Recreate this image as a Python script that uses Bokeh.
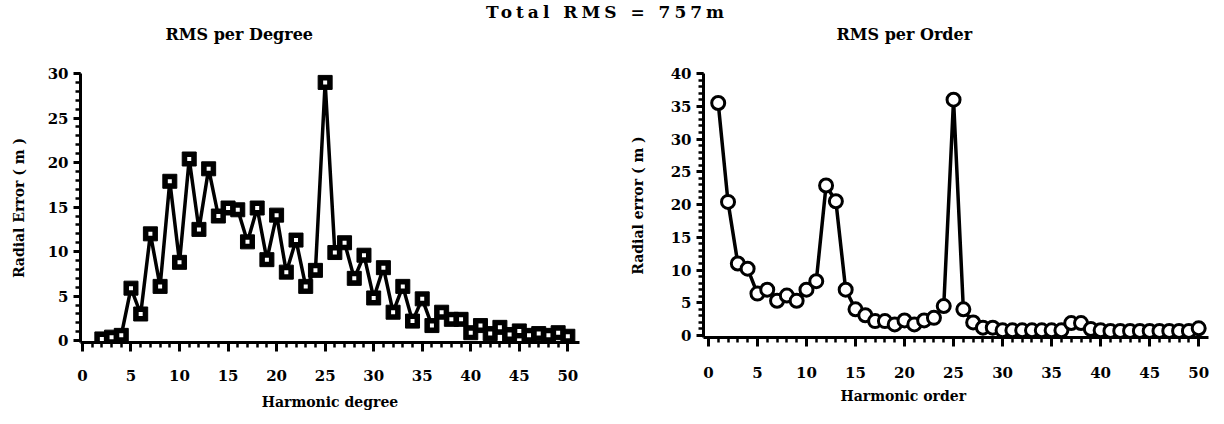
from bokeh.plotting import figure
from bokeh.models import Div, FixedTicker, Range1d, Title
from bokeh.layouts import column, row
from bokeh.embed import file_html
from bokeh.resources import INLINE

# ---------------- data ----------------
degree = list(range(2, 51))
rms_degree = [0.2, 0.4, 0.6, 5.9, 3.0, 12.0, 6.1, 17.9, 8.8, 20.4,
              12.5, 19.3, 14.0, 14.9, 14.7, 11.1, 14.9, 9.1, 14.1, 7.7,
              11.3, 6.1, 7.9, 29.0, 9.9, 11.0, 7.0, 9.6, 4.8, 8.2,
              3.2, 6.1, 2.2, 4.7, 1.7, 3.2, 2.4, 2.4, 0.9, 1.7,
              0.8, 1.5, 0.7, 1.1, 0.6, 0.8, 0.6, 0.9, 0.5]

order = list(range(1, 51))
rms_order = [35.5, 20.4, 11.0, 10.2, 6.4, 7.0, 5.3, 6.1, 5.3, 7.0,
             8.3, 22.9, 20.5, 7.0, 4.0, 3.1, 2.2, 2.2, 1.7, 2.3,
             1.7, 2.3, 2.7, 4.5, 36.0, 4.0, 2.0, 1.2, 1.2, 0.8,
             0.8, 0.8, 0.8, 0.8, 0.8, 0.8, 1.9, 1.9, 1.0, 0.8,
             0.7, 0.7, 0.7, 0.7, 0.7, 0.7, 0.7, 0.7, 0.7, 1.1]

x_ticks = [0, 5, 10, 15, 20, 25, 30, 35, 40, 45, 50]
x_minor = list(range(0, 51))
y_ticks_deg = [0, 5, 10, 15, 20, 25, 30]
y_minor_deg = list(range(0, 31))
y_ticks_ord = [0, 5, 10, 15, 20, 25, 30, 35, 40]
y_minor_ord = list(range(0, 41))

main_title = "Total RMS = 757m"
title_deg = "RMS per Degree"
title_ord = "RMS per Order"
xlab_deg = "Harmonic degree"
xlab_ord = "Harmonic order"
ylab_deg = "Radial Error ( m )"
ylab_ord = "Radial error ( m )"

FONT = "DejaVu Serif"


def style_axes(p, xt, xm, yt, ym, label_standoff):
    for ax in (p.xaxis[0], p.yaxis[0]):
        ax.axis_line_width = 3
        ax.axis_line_color = "black"
        ax.major_tick_line_width = 3
        ax.minor_tick_line_width = 2.5
        ax.major_tick_line_color = "black"
        ax.minor_tick_line_color = "black"
        ax.major_tick_in = 0
        ax.minor_tick_in = 0
        ax.major_label_text_font = FONT
        ax.major_label_text_font_style = "bold"
        ax.major_label_text_font_size = "15px"
        ax.major_label_text_color = "black"
        ax.axis_label_text_font = FONT
        ax.axis_label_text_font_style = "bold"
        ax.axis_label_text_font_size = "14px"
        ax.axis_label_text_color = "black"
    p.xaxis[0].ticker = FixedTicker(ticks=xt, minor_ticks=xm)
    p.yaxis[0].ticker = FixedTicker(ticks=yt, minor_ticks=ym)
    p.xaxis[0].major_tick_out = 9
    p.xaxis[0].minor_tick_out = 5
    p.yaxis[0].major_tick_out = 7
    p.yaxis[0].minor_tick_out = 5
    p.xaxis[0].major_label_standoff = label_standoff
    p.yaxis[0].major_label_standoff = 5
    p.xgrid.visible = False
    p.ygrid.visible = False
    p.outline_line_color = None


def make_title(text, offset, size="16px", standoff=0):
    return Title(text=text, align="left", offset=offset, text_font=FONT,
                 text_font_style="bold", text_font_size=size,
                 text_color="black", standoff=standoff,
                 vertical_align="bottom")


def spacer():
    # blank band between the panel title and the plot frame
    return Title(text=" ", text_font=FONT, text_font_size="15px", standoff=10)


# ---------------- left panel ----------------
p1 = figure(width=612, height=402, output_backend="svg", toolbar_location=None,
            x_range=Range1d(-0.2, 51.2), y_range=Range1d(-0.2, 30),
            min_border_left=80, min_border_right=33, min_border_top=51,
            min_border_bottom=82)
style_axes(p1, x_ticks, x_minor, y_ticks_deg, y_minor_deg, 18)
p1.xaxis[0].axis_label = xlab_deg
p1.xaxis[0].axis_label_standoff = 10
p1.yaxis[0].axis_label = ylab_deg
p1.yaxis[0].axis_label_standoff = 18
p1.line(degree, rms_degree, line_color="black", line_width=3.5)
p1.scatter(degree, rms_degree, marker="square", size=14, fill_color="black",
           line_color="black")
p1.scatter(degree, rms_degree, marker="square", size=4, fill_color="white",
           line_color=None)
p1.add_layout(spacer(), "above")
p1.add_layout(make_title(title_deg, 85), "above")

# ---------------- right panel ----------------
p2 = figure(width=612, height=402, output_backend="svg", toolbar_location=None,
            x_range=Range1d(-0.5, 51), y_range=Range1d(-0.3, 40),
            min_border_left=91, min_border_right=16, min_border_top=51,
            min_border_bottom=87)
style_axes(p2, x_ticks, x_minor, y_ticks_ord, y_minor_ord, 20)
p2.yaxis[0].axis_label = ylab_ord
p2.yaxis[0].axis_label_standoff = 22
p2.line(order, rms_order, line_color="black", line_width=3.5)
p2.scatter(order, rms_order, marker="circle", size=13, fill_color="white",
           line_color="black", line_width=3)
p2.add_layout(spacer(), "above")
p2.add_layout(make_title(title_ord, 133), "above")
p2.add_layout(make_title(xlab_ord, 137, "14px", 10), "below")

head = Div(text=main_title, width=1224, height=22, margin=(0, 0, 0, 0),
           styles={"text-align": "center", "font-family": FONT,
                   "font-weight": "bold", "font-size": "17px",
                   "letter-spacing": "4px", "line-height": "24px",
                   "color": "black", "width": "1214px"})

layout = column(head, row(column(p1), column(p2), spacing=0), spacing=0)

open("out.html", "w").write(file_html(layout, INLINE))
